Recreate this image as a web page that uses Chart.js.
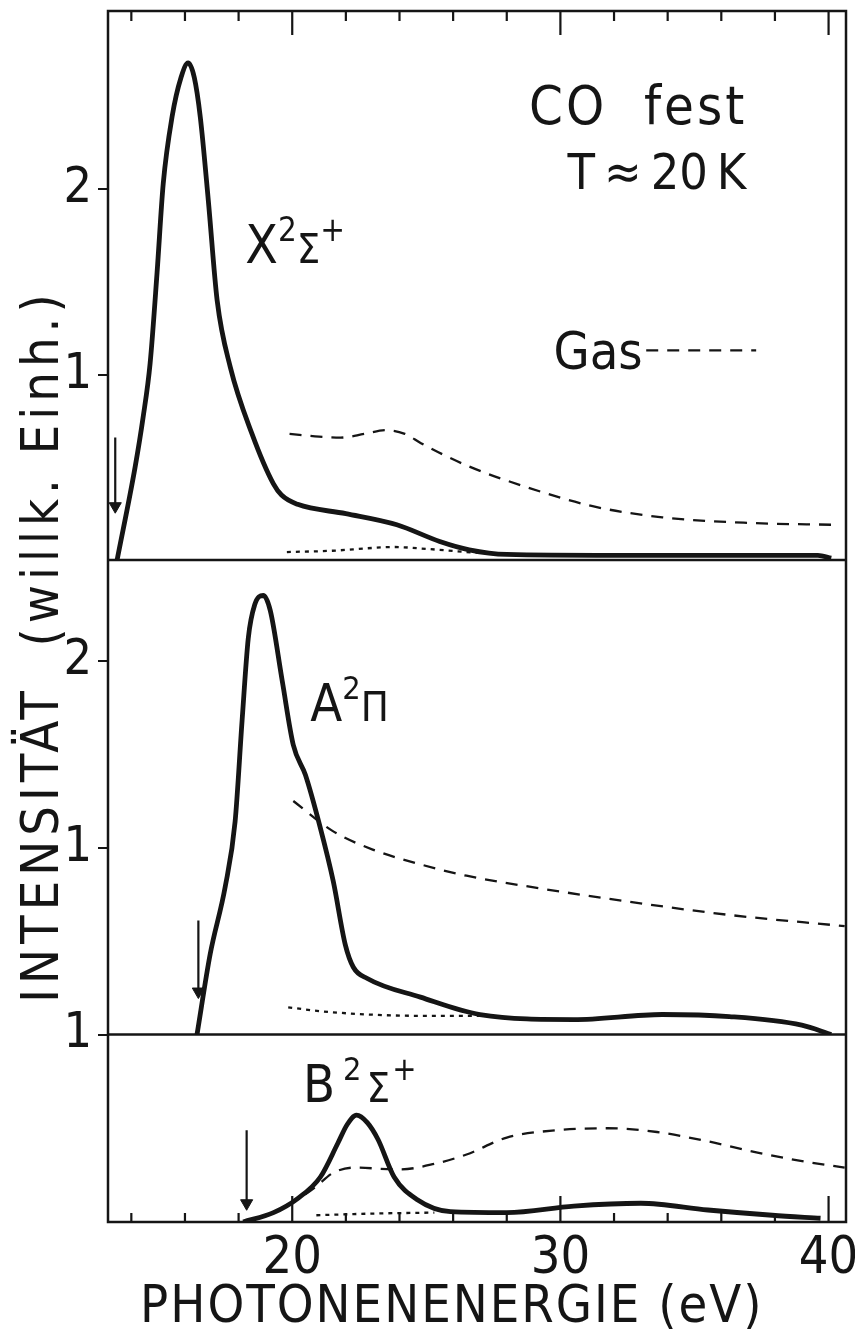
<!DOCTYPE html>
<html>
<head>
<meta charset="utf-8">
<script src="https://cdn.jsdelivr.net/npm/chart.js@4.4.1/dist/chart.umd.min.js"></script>
<style>
    html, body { margin: 0; padding: 0; background: #fff; }
    #wrap { position: relative; width: 855px; height: 1331px; }
</style>
</head>
<body>
<div id="wrap"><canvas id="chart" width="855" height="1331"></canvas></div>
<script>
// X 2Sigma+ (oberes Feld)
let xSolidE = [13.47, 14.14, 14.44, 14.7, 14.96, 15.19, 15.52, 15.85, 16.12, 16.35, 16.57, 16.87, 17.2, 17.69, 18.5, 19.3, 19.6, 20.2, 22.0, 23.9, 25.5, 26.6, 28.0, 32.0, 36.0, 39.6, 40.1];
let xSolidI = [0, 0.5, 0.77, 1.06, 1.55, 2.03, 2.39, 2.6, 2.68, 2.6, 2.39, 1.94, 1.4, 1.04, 0.68, 0.41, 0.35, 0.3, 0.25, 0.19, 0.1, 0.055, 0.03, 0.025, 0.025, 0.025, 0.01];
let xGasE = [19.9, 21.0, 21.8, 22.7, 23.5, 24.2, 24.8, 26.5, 28.8, 31.2, 33.8, 37.0, 40.1];
let xGasI = [0.68, 0.665, 0.66, 0.68, 0.7, 0.68, 0.63, 0.51, 0.39, 0.29, 0.23, 0.2, 0.19];
let xDotE = [19.8, 21.5, 23.0, 23.8, 25.0, 26.5, 27.5];
let xDotI = [0.043, 0.05, 0.065, 0.07, 0.06, 0.043, 0.035];

// A 2Pi (mittleres Feld)
let aSolidE = [16.45, 16.94, 17.5, 17.87, 18.13, 18.36, 18.6, 18.92, 19.18, 19.63, 20.04, 20.49, 21.04, 21.53, 21.98, 22.28, 22.8, 24.78, 27.0, 30.5, 33.8, 36.3, 39.0, 40.1];
let aSolidI = [0, 0.43, 0.79, 1.14, 1.68, 2.12, 2.3, 2.35, 2.27, 1.89, 1.55, 1.39, 1.11, 0.82, 0.48, 0.36, 0.3, 0.2, 0.107, 0.08, 0.107, 0.096, 0.05, 0];
let aGasE = [20.04, 21.5, 23.0, 24.8, 26.5, 28.9, 32.6, 36.3, 40.6];
let aGasI = [1.25, 1.09, 0.99, 0.91, 0.85, 0.79, 0.71, 0.64, 0.58];
let aDotE = [19.85, 21.4, 24.8, 27.0];
let aDotI = [0.145, 0.12, 0.1, 0.1];

// B 2Sigma+ (unteres Feld)
let bSolidE = [18.17, 19.3, 20.2, 21.05, 21.7, 22.05, 22.4, 22.8, 23.2, 23.8, 24.65, 25.9, 28.0, 30.5, 33.0, 35.5, 37.9, 39.7];
let bSolidI = [0, 0.05, 0.125, 0.24, 0.42, 0.52, 0.57, 0.53, 0.44, 0.24, 0.12, 0.055, 0.05, 0.085, 0.1, 0.064, 0.036, 0.02];
let bGasE = [19.8, 20.2, 20.9, 21.5, 22.3, 24.0, 25.3, 26.5, 28.0, 29.9, 31.75, 33.6, 35.5, 37.35, 39.2, 40.6];
let bGasI = [0.09, 0.12, 0.19, 0.26, 0.29, 0.28, 0.31, 0.36, 0.45, 0.49, 0.5, 0.48, 0.43, 0.37, 0.32, 0.29];
let bDotE = [20.9, 23.0, 25.3];
let bDotI = [0.036, 0.045, 0.05];

// Pfeile (Schwellen)
let arrowE = [13.4, 16.5, 18.3];
let arrowTop = [0.66, 0.61, 0.49];
let arrowTip = [0.29, 0.23, 0.1];

// Achsen
let xLabelTicks = [20, 30, 40];
let xMinorTicks = [14, 16, 18, 20, 22, 24, 26, 28, 30, 32, 34, 36, 38, 40];
let yTicksX = [1, 2];
let yTicksA = [1, 2];
let yTicksB = [1];

const ink = '#151515';
const fontFam = "'Liberation Sans Narrow', 'DejaVu Sans Condensed', 'Liberation Sans', sans-serif";

function pts(es, is) {
    return es.map((e, i) => ({ x: e, y: is[i] }));
}

function solid(es, is, axis) {
    return { data: pts(es, is), yAxisID: axis, borderColor: ink, borderWidth: 4.8, pointRadius: 0, cubicInterpolationMode: 'monotone' };
}

function dashed(es, is, axis) {
    return { data: pts(es, is), yAxisID: axis, borderColor: ink, borderWidth: 2.3, borderDash: [12, 9], pointRadius: 0, cubicInterpolationMode: 'monotone' };
}

function dotted(es, is, axis) {
    return { data: pts(es, is), yAxisID: axis, borderColor: ink, borderWidth: 2.3, borderDash: [4, 5], pointRadius: 0, cubicInterpolationMode: 'monotone' };
}

function arrow(i, axis) {
    return {
        data: [{ x: arrowE[i], y: arrowTop[i] }, { x: arrowE[i], y: arrowTip[i] }],
        yAxisID: axis, borderColor: ink, borderWidth: 2.2,
        pointRadius: [0, 7], pointStyle: 'triangle', pointRotation: 180,
        pointBackgroundColor: ink, pointBorderColor: ink, pointBorderWidth: 1
    };
}

function drawRich(ctx, parts, x, y, size) {
    parts.forEach(p => {
        let fs = size * (p.sup ? 0.62 : (p.scale || 1));
        ctx.font = fs + 'px ' + fontFam;
        let dy = p.sup ? -size * 0.42 : 0;
        ctx.fillText(p.t, x, y + dy);
        x += ctx.measureText(p.t).width + (p.gap || 0);
    });
}

function yAxis(max, weight, ticks) {
    return {
        type: 'linear', position: 'left', stack: 'panels', stackWeight: weight,
        min: 0, max: max,
        afterBuildTicks: s => { s.ticks = ticks.map(v => ({ value: v })); },
        afterFit: s => { s.width = 60; s.paddingTop = 0; s.paddingBottom = 0; },
        border: { display: false },
        grid: { drawOnChartArea: false, drawTicks: true, tickLength: 10, color: ink, lineWidth: 2 },
        ticks: { color: ink, padding: 6, font: { family: fontFam, size: 50 } }
    };
}

const decor = {
    id: 'decor',
    afterDraw(chart) {
        const ctx = chart.ctx;
        const a = chart.chartArea;
        const xs = chart.scales.x;
        const yX = chart.scales.yX, yA = chart.scales.yA, yB = chart.scales.yB;
        ctx.save();
        ctx.strokeStyle = ink;
        ctx.fillStyle = ink;
        ctx.lineWidth = 2.5;

        // Rahmen und Trennlinien
        ctx.strokeRect(a.left, a.top, a.right - a.left, a.bottom - a.top);
        [yX.getPixelForValue(0), yA.getPixelForValue(0)].forEach(py => {
            ctx.beginPath();
            ctx.moveTo(a.left, py);
            ctx.lineTo(a.right, py);
            ctx.stroke();
        });

        // Teilstriche oben und unten (nach innen)
        ctx.lineWidth = 2.2;
        xMinorTicks.forEach(v => {
            let px = xs.getPixelForValue(v);
            let major = v % 10 === 0;
            ctx.beginPath();
            ctx.moveTo(px, a.top);
            ctx.lineTo(px, a.top + (major ? 24 : 10));
            ctx.moveTo(px, a.bottom);
            ctx.lineTo(px, a.bottom - (major ? 26 : 9));
            ctx.stroke();
        });

        // Beschriftungen im Diagramm
        ctx.textBaseline = 'alphabetic';
        ctx.textAlign = 'center';
        ctx.font = '54px ' + fontFam;
        ctx.letterSpacing = '3px';
        ctx.fillText('CO  fest', xs.getPixelForValue(32.9), yX.getPixelForValue(2.35));
        ctx.letterSpacing = '0px';
        ctx.font = '50px ' + fontFam;
        ctx.fillText('T\u2009\u2248\u200920\u2009K', xs.getPixelForValue(33.6), yX.getPixelForValue(2.0));

        ctx.textAlign = 'left';
        ctx.font = '52px ' + fontFam;
        ctx.fillText('Gas', xs.getPixelForValue(29.74), yX.getPixelForValue(1.03));
        ctx.save();
        ctx.lineWidth = 2.3;
        ctx.setLineDash([12, 9]);
        ctx.beginPath();
        ctx.moveTo(xs.getPixelForValue(33.2), yX.getPixelForValue(1.13));
        ctx.lineTo(xs.getPixelForValue(37.3), yX.getPixelForValue(1.13));
        ctx.stroke();
        ctx.restore();

        drawRich(ctx, [{ t: 'X' }, { t: '2', sup: true }, { t: 'Σ', scale: 0.78 }, { t: '+', sup: true }],
            xs.getPixelForValue(18.25), yX.getPixelForValue(1.6), 53);
        drawRich(ctx, [{ t: 'A' }, { t: '2', sup: true }, { t: 'Π', scale: 0.8, gap: 2 }],
            xs.getPixelForValue(20.67), yA.getPixelForValue(1.68), 52);
        drawRich(ctx, [{ t: 'B', gap: 8 }, { t: '2', sup: true, gap: 5 }, { t: 'Σ', scale: 0.8, gap: 2 }, { t: '+', sup: true }],
            xs.getPixelForValue(20.4), yB.getPixelForValue(0.64), 52);

        // Achsentitel
        ctx.font = '52px ' + fontFam;
        ctx.letterSpacing = '2px';
        ctx.textAlign = 'left';
        ctx.fillText('PHOTONENENERGIE (eV)', a.left + 32, a.bottom + 100);

        ctx.translate(58, a.top + 635);
        ctx.rotate(-Math.PI / 2);
        ctx.textAlign = 'center';
        ctx.font = '52px ' + fontFam;
        ctx.letterSpacing = '5px';
        ctx.fillText('INTENSITÄT  (willk. Einh.)', 0, 0);
        ctx.restore();
    }
};

document.addEventListener('DOMContentLoaded', function () {
    const ctx = document.getElementById('chart');
    new Chart(ctx, {
        type: 'line',
        data: {
            datasets: [
                solid(xSolidE, xSolidI, 'yX'),
                dashed(xGasE, xGasI, 'yX'),
                dotted(xDotE, xDotI, 'yX'),
                arrow(0, 'yX'),
                solid(aSolidE, aSolidI, 'yA'),
                dashed(aGasE, aGasI, 'yA'),
                dotted(aDotE, aDotI, 'yA'),
                arrow(1, 'yA'),
                solid(bSolidE, bSolidI, 'yB'),
                dashed(bGasE, bGasI, 'yB'),
                dotted(bDotE, bDotI, 'yB'),
                arrow(2, 'yB')
            ]
        },
        options: {
            responsive: false,
            animation: false,
            devicePixelRatio: 1,
            layout: { padding: { left: 48, right: 9, top: 11, bottom: 0 } },
            plugins: { legend: { display: false }, tooltip: { enabled: false } },
            scales: {
                x: {
                    type: 'linear', min: 13.13, max: 40.65,
                    afterBuildTicks: s => { s.ticks = xLabelTicks.map(v => ({ value: v })); },
                    afterFit: s => { s.height = 109; s.paddingLeft = 0; s.paddingRight = 0; },
                    border: { display: false },
                    grid: { display: false, drawTicks: false },
                    ticks: { color: ink, padding: 6, maxRotation: 0, font: { family: fontFam, size: 52 } }
                },
                // unten zuerst: gestapelte Achsen links werden umgekehrt angeordnet
                yB: yAxis(1, 187.5, yTicksB),
                yA: yAxis(2.54, 474.5, yTicksA),
                yX: yAxis(2.96, 549, yTicksX)
            }
        },
        plugins: [decor]
    });
});
</script>
</body>
</html>
